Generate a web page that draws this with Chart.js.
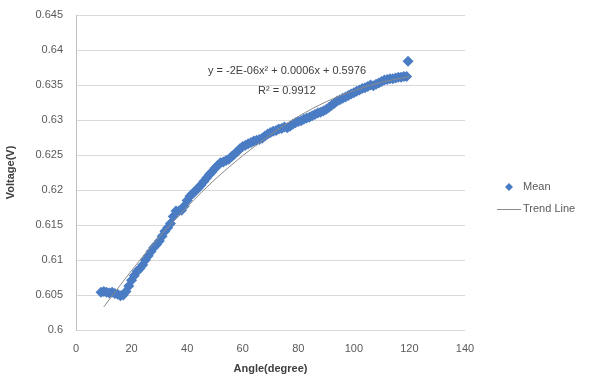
<!DOCTYPE html>
<html><head><meta charset="utf-8">
<script src="https://cdn.jsdelivr.net/npm/chart.js@4/dist/chart.umd.min.js"></script>
<style>html,body{margin:0;padding:0;background:#fff}#wrap{width:596px;height:380px}</style>
</head><body><div id="wrap"><canvas id="c"></canvas></div>
<script>
const angles = [9,10,11,12,13,14,15,16,17,18,19,20,21,22,23,24,25,26,27,28,29,30,31,32,33,34,35,36,37,38,39,40,41,42,43,44,45,46,47,48,49,50,51,52,53,54,55,56,57,58,59,60,61,62,63,64,65,66,67,68,69,70,71,72,73,74,75,76,77,78,79,80,81,82,83,84,85,86,87,88,89,90,91,92,93,94,95,96,97,98,99,100,101,102,103,104,105,106,107,108,109,110,111,112,113,114,115,116,117,118,119,119.5];
const meanVoltage = [0.6054,0.6055,0.6054,0.6053,0.6054,0.6052,0.6051,0.6049,0.6050,0.6055,0.6063,0.6071,0.6078,0.6084,0.6088,0.6093,0.6100,0.6106,0.6112,0.6118,0.6122,0.6127,0.6134,0.6141,0.6146,0.6152,0.6162,0.6170,0.6170,0.6171,0.6177,0.6185,0.6191,0.6195,0.6199,0.6203,0.6207,0.6212,0.6217,0.6222,0.6226,0.6231,0.6235,0.6239,0.6240,0.6242,0.6244,0.6248,0.6251,0.6255,0.6259,0.6262,0.6264,0.6266,0.6268,0.6270,0.6271,0.6272,0.6274,0.6277,0.6280,0.6282,0.6284,0.6285,0.6287,0.6288,0.6290,0.6289,0.6291,0.6294,0.6296,0.6298,0.6299,0.6301,0.6303,0.6304,0.6306,0.6308,0.6310,0.6311,0.6313,0.6315,0.6318,0.6321,0.6324,0.6327,0.6329,0.6331,0.6333,0.6335,0.6337,0.6339,0.6341,0.6343,0.6345,0.6346,0.6348,0.6350,0.6349,0.6351,0.6353,0.6355,0.6357,0.6358,0.6359,0.6359,0.6360,0.6361,0.6361,0.6362,0.6362,0.6384];
const trendAngles = [10,20,30,40,50,60,70,80,90,100,110,120];
const trendVoltage = [0.6033,0.6085,0.6133,0.6176,0.6215,0.6249,0.6279,0.6305,0.6326,0.6342,0.6354,0.6362];
const xTicks = [0,20,40,60,80,100,120,140];
const yTicks = [0.6,0.605,0.61,0.615,0.62,0.625,0.63,0.635,0.64,0.645];
const seriesNames = ['Mean','Trend Line'];
const equationText = 'y = -2E-06x\u00B2 + 0.0006x + 0.5976';
const r2Text = 'R\u00B2 = 0.9912';

const BLUE = '#4a7cc4', GRAY = '#8a8a8a', TXT = '#595959';
const FONT = '"Liberation Sans", Arial, sans-serif';

const extras = {
  id: 'extras',
  afterDatasetsDraw(chart) {
    const ctx = chart.ctx;
    ctx.save();
    ctx.fillStyle = '#404040';
    ctx.font = '11px ' + FONT;
    ctx.textBaseline = 'middle';
    ctx.textAlign = 'left';
    ctx.fillText(equationText, 208, 71);
    ctx.fillText(r2Text, 258, 91);
    // legend
    ctx.fillStyle = BLUE;
    const lx = 509, ly = 187;
    ctx.beginPath();
    ctx.moveTo(lx, ly - 4); ctx.lineTo(lx + 4, ly); ctx.lineTo(lx, ly + 4); ctx.lineTo(lx - 4, ly); ctx.closePath();
    ctx.fill();
    ctx.strokeStyle = GRAY; ctx.lineWidth = 1;
    ctx.beginPath(); ctx.moveTo(497, 209.5); ctx.lineTo(521, 209.5); ctx.stroke();
    ctx.fillStyle = TXT;
    ctx.fillText(seriesNames[0], 523, 187);
    ctx.fillText(seriesNames[1], 523, 209);
    ctx.restore();
  }
};

new Chart(document.getElementById('c'), {
  type: 'scatter',
  data: {
    datasets: [
      { label: seriesNames[1], order: 0, data: trendAngles.map((x,i)=>({x, y: trendVoltage[i]})),
        showLine: true, borderColor: GRAY, borderWidth: 1, pointRadius: 0, cubicInterpolationMode: 'monotone' },
      { label: seriesNames[0], order: 1, data: angles.map((x,i)=>({x, y: meanVoltage[i]})),
        pointStyle: 'rectRot', pointRadius: 5.5, backgroundColor: BLUE, borderColor: BLUE, borderWidth: 0 }
    ]
  },
  options: {
    responsive: true, maintainAspectRatio: false, animation: false,
    layout: { padding: { left: 0, right: 131, top: 15, bottom: 0 } },
    plugins: { legend: { display: false }, tooltip: { enabled: false } },
    scales: {
      x: {
        type: 'linear', min: 0, max: 140,
        afterBuildTicks: s => { s.ticks = xTicks.map(v => ({ value: v })); },
        afterFit: s => { s.height = 50; },
        grid: { display: false, drawTicks: false },
        border: { display: false },
        ticks: { color: TXT, font: { family: FONT, size: 11 }, padding: 12, maxRotation: 0 },
        title: { display: true, text: 'Angle(degree)', color: '#404040', font: { family: FONT, size: 11, weight: 'bold' }, padding: { top: 4 } }
      },
      y: {
        type: 'linear', min: 0.6, max: 0.645,
        afterBuildTicks: s => { s.ticks = yTicks.map(v => ({ value: v })); },
        afterFit: s => { s.width = 76; s.paddingTop = 0; s.paddingBottom = 0; },
        grid: { color: '#d9d9d9', lineWidth: 1, drawTicks: false },
        border: { display: true, color: '#bfbfbf' },
        ticks: { color: TXT, font: { family: FONT, size: 11 }, padding: 13, callback: v => String(+v.toFixed(3)) },
        title: { display: true, text: 'Voltage(V)', color: '#404040', font: { family: FONT, size: 11, weight: 'bold' }, padding: { bottom: 4 } }
      }
    }
  },
  plugins: [extras]
});
</script></body></html>
